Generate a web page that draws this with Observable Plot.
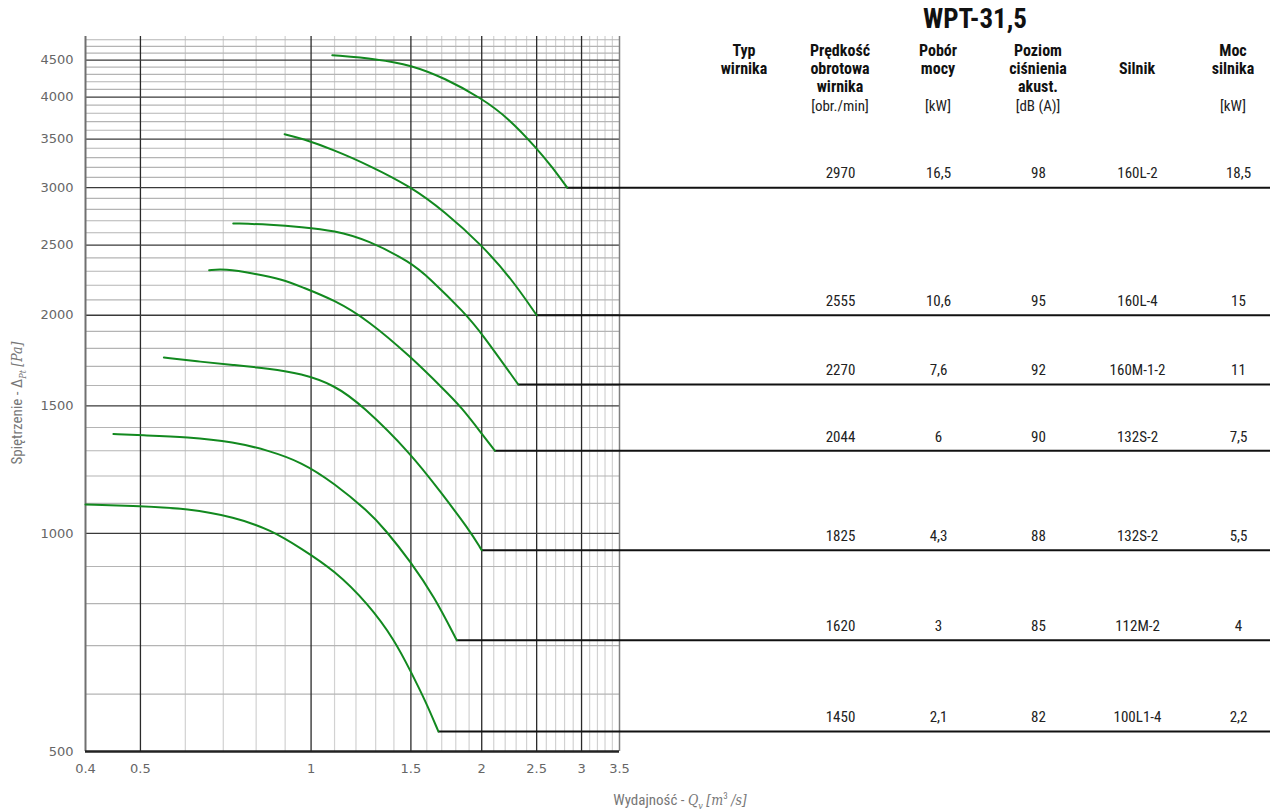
<!DOCTYPE html>
<html><head><meta charset="utf-8">
<script src="https://cdn.jsdelivr.net/npm/d3@7"></script>
<script src="https://cdn.jsdelivr.net/npm/@observablehq/plot@0.6"></script>
<style>
html,body{margin:0;padding:0;background:#fff;overflow:hidden}
#wrap{position:relative;width:1270px;height:809px}
#wrap svg{position:absolute;left:0;top:0}
.narrow{font-family:"Liberation Sans Narrow","Roboto Condensed","DejaVu Sans Condensed",sans-serif;font-stretch:condensed}
.abs{position:absolute;white-space:nowrap;text-align:center;transform:translateX(-50%);color:#111}
.hdr{font-weight:bold;font-size:16px;line-height:18px}
.unit{font-size:15px;line-height:18px;color:#222}
.ttl{font-weight:bold;font-size:27px;line-height:30px}
.axl{position:absolute;white-space:nowrap;color:#777;font-size:15px}
.m{font-family:"DejaVu Serif",serif;font-style:italic;font-size:14px}
</style></head>
<body><div id="wrap"></div>
<script>
// ---- data ----
const rpm        = [2970, 2555, 2270, 2044, 1825, 1620, 1450];
const power      = ["16,5", "10,6", "7,6", "6", "4,3", "3", "2,1"];
const noise      = ["98", "95", "92", "90", "88", "85", "82"];
const motor      = ["160L-2", "160L-4", "160M-1-2", "132S-2", "132S-2", "112M-2", "100L1-4"];
const motorPower = ["18,5", "15", "11", "7,5", "5,5", "4", "2,2"];

const curveQ = [
  [1.09, 1.31, 1.50, 1.72, 2.00, 2.23, 2.50, 2.66, 2.83],
  [0.898, 0.961, 1.10, 1.26, 1.50, 1.72, 2.00, 2.26, 2.50],
  [0.729, 0.85, 0.961, 1.10, 1.26, 1.50, 1.61, 1.87, 2.00, 2.32],
  [0.661, 0.703, 0.794, 0.892, 0.961, 1.10, 1.26, 1.50, 1.72, 1.84, 2.00, 2.11],
  [0.550, 0.639, 0.732, 0.839, 0.961, 1.10, 1.23, 1.50, 1.70, 1.895, 2.00],
  [0.448, 0.500, 0.606, 0.732, 0.839, 0.961, 1.10, 1.26, 1.35, 1.50, 1.65, 1.807],
  [0.400, 0.500, 0.606, 0.732, 0.850, 0.961, 1.10, 1.26, 1.405, 1.50, 1.59, 1.677]
];
const curveP = [
  [4570, 4515, 4430, 4250, 3985, 3740, 3400, 3205, 3000],
  [3555, 3510, 3380, 3225, 3010, 2780, 2500, 2243, 2000],
  [2678, 2668, 2648, 2618, 2540, 2365, 2258, 2012, 1888, 1605],
  [2308, 2318, 2284, 2241, 2189, 2099, 1969, 1752, 1576, 1494, 1373, 1300],
  [1749, 1725, 1707, 1689, 1662, 1602, 1503, 1289, 1135, 1015, 948],
  [1371, 1366, 1359, 1337, 1302, 1255, 1172, 1073, 1013, 913, 817, 712],
  [1096, 1090, 1082, 1053, 1011, 953, 889, 800, 712, 644, 588, 533]
];

const xTicks = [0.4, 0.5, 1, 1.5, 2, 2.5, 3, 3.5];
const yTicks = [500, 1000, 1500, 2000, 2500, 3000, 3500, 4000, 4500];
const xMajor = [0.5, 1, 1.5, 2, 2.5, 3];
const xMinor = [0.6, 0.7, 0.8, 0.9, 1.1, 1.2, 1.3, 1.4, 1.6, 1.7, 1.8, 1.9,
                2.1, 2.2, 2.3, 2.4, 2.6, 2.7, 2.8, 2.9, 3.1, 3.2, 3.3, 3.4];
const yMajor = [1000, 1500, 2000, 2500, 3000, 3500, 4000, 4500];
const yMinor = [600, 700, 800, 900, 1100, 1200, 1300, 1400, 1600, 1700, 1800, 1900,
                2100, 2200, 2300, 2400, 2600, 2700, 2800, 2900, 3100, 3200, 3300, 3400,
                3600, 3700, 3800, 3900, 4100, 4200, 4300, 4400, 4600, 4700, 4800];
const xDomain = [0.4, 3.5];
const yDomain = [500, 4850];

const title = "WPT-31,5";
const headers = [
  {bold: ["Typ", "wirnika"], unit: ""},
  {bold: ["Prędkość", "obrotowa", "wirnika"], unit: "[obr./min]"},
  {bold: ["Pobór", "mocy"], unit: "[kW]"},
  {bold: ["Poziom", "ciśnienia", "akust."], unit: "[dB (A)]"},
  {bold: ["", "Silnik"], unit: ""},
  {bold: ["Moc", "silnika"], unit: "[kW]"}
];

// ---- layout (pixels) ----
const W = 1270, H = 805;
const headerX = [744, 840, 938, 1038, 1137, 1233];
const colX = [840, 938, 1038, 1137, 1238];

// ---- build tables ----
const pts = rpm.flatMap((r, i) => curveQ[i].map((q, j) => ({rpm: r, q, p: curveP[i][j]})));
const ends = rpm.map((r, i) => ({
  rpm: String(r), q: curveQ[i][curveQ[i].length - 1], p: curveP[i][curveP[i].length - 1],
  power: power[i], noise: noise[i], motor: motor[i], motorPower: motorPower[i]
}));
const xFar = 60; // beyond the right edge of the page (clipped by the svg)
const narrow = '"Liberation Sans Narrow","Roboto Condensed","DejaVu Sans Condensed",sans-serif';
const cols = ["rpm", "power", "noise", "motor", "motorPower"];

const chart = Plot.plot({
  width: W, height: H,
  marginLeft: 85, marginRight: 0, marginTop: 36, marginBottom: 54,
  style: {fontFamily: "DejaVu Sans, sans-serif", fontSize: "13px", color: "#666", background: "transparent"},
  x: {type: "log", domain: xDomain, range: [85, 619], ticks: xTicks, tickFormat: d => String(d),
      tickSize: 0, tickPadding: 12, label: null},
  y: {type: "log", domain: yDomain, ticks: yTicks, tickFormat: d => String(d),
      tickSize: 0, tickPadding: 12, label: null},
  marks: [
    Plot.ruleX(xMinor, {stroke: "#d2d2d2", strokeWidth: 1.2}),
    Plot.ruleY(yMinor, {x1: xDomain[0], x2: xDomain[1], stroke: "#b4b4b4", strokeWidth: 1.1}),
    Plot.ruleX(xMajor, {stroke: "#2a2a2a", strokeWidth: 1.3}),
    Plot.ruleY(yMajor, {x1: xDomain[0], x2: xDomain[1], stroke: "#3a3a3a", strokeWidth: 1.3}),
    Plot.ruleX([xDomain[0]], {stroke: "#707070", strokeWidth: 2}),
    Plot.ruleX([xDomain[1]], {stroke: "#808080", strokeWidth: 1.5}),
    Plot.ruleY([yDomain[0]], {x1: xDomain[0], x2: xDomain[1], stroke: "#222", strokeWidth: 2.5}),
    Plot.ruleY(ends, {y: "p", x1: "q", x2: xFar, stroke: "#111", strokeWidth: 2}),
    Plot.line(pts, {x: "q", y: "p", z: "rpm", stroke: "#12891f", strokeWidth: 2, curve: "basis"}),
    ...cols.map((c, k) => Plot.text(ends, {
      y: "p", text: c, frameAnchor: "right", textAnchor: "middle", lineAnchor: "middle",
      dx: colX[k] - W, dy: -14, fontFamily: narrow, fontSize: 15, fill: "#222"
    }))
  ]
});

const wrap = document.getElementById("wrap");
wrap.appendChild(chart);

function add(cls, html, left, top, extra) {
  const d = document.createElement("div");
  d.className = cls;
  d.innerHTML = html;
  d.style.left = left + "px";
  d.style.top = top + "px";
  if (extra) Object.assign(d.style, extra);
  wrap.appendChild(d);
  return d;
}
add("abs narrow ttl", title, 975, 4);
headers.forEach((h, i) => {
  add("abs narrow hdr", h.bold.map(s => s || "&nbsp;").join("<br>"), headerX[i], 42);
  if (h.unit) add("abs narrow unit", h.unit, headerX[i], 97);
});
add("axl narrow", 'Wydajność - <span class="m">Q<sub style="font-size:9px">v</sub></span> <span class="m">[m</span><sup style="font-size:9px">3</sup> <span class="m">/s]</span>',
    680, 801, {transform: "translate(-50%,-50%)"});
add("axl narrow", 'Spiętrzenie - Δ<sub class="m" style="font-size:9px">Pt</sub> <span class="m">[Pa]</span>',
    18, 403, {transform: "translate(-50%,-50%) rotate(-90deg)"});
</script></body></html>
